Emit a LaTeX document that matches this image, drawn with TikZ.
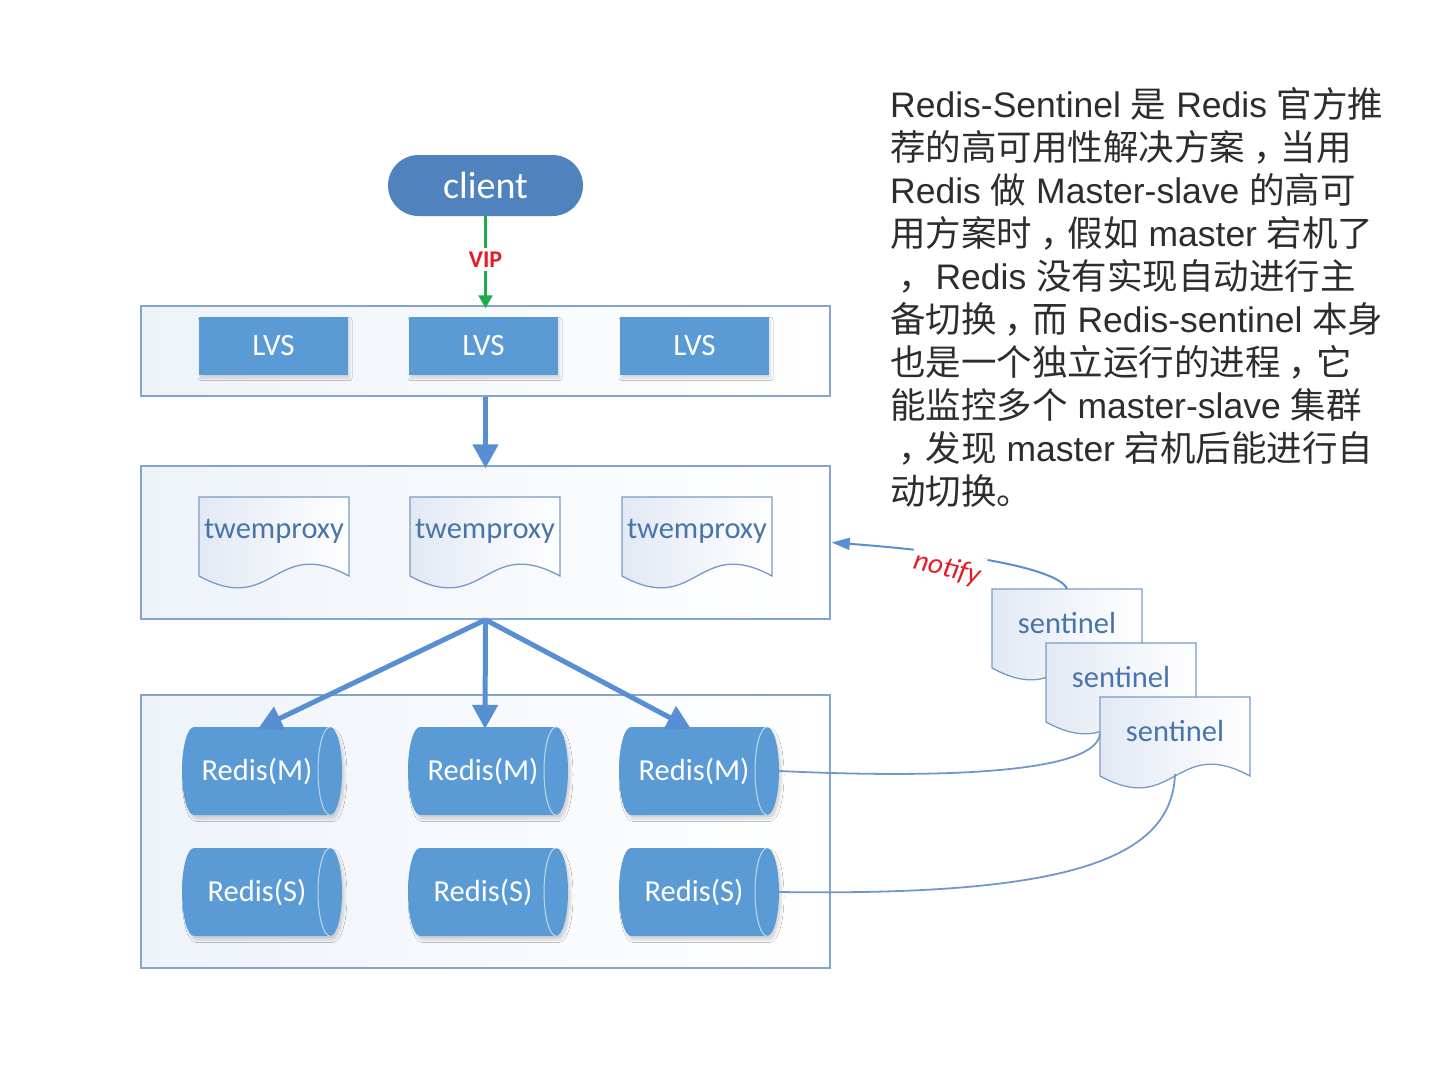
\documentclass[tikz,border=0pt]{standalone}
\usepackage{fontspec}
\setmainfont{Liberation Sans}
\newfontfamily\cjk{Noto Sans CJK SC}
\newfontfamily\calfont{Carlito}
\usetikzlibrary{arrows.meta,shapes.misc,shadows.blur}
\definecolor{mainblue}{RGB}{91,155,213}
\definecolor{clientblue}{RGB}{80,131,190}
\definecolor{arrowblue}{RGB}{88,142,210}
\definecolor{borderblue}{RGB}{132,164,203}
\definecolor{docblue}{RGB}{120,155,198}
\definecolor{doctextblue}{RGB}{72,116,170}
\definecolor{boxtint}{RGB}{238,243,250}
\definecolor{doctint}{RGB}{226,233,244}
\definecolor{vipgreen}{RGB}{30,172,75}
\definecolor{labelred}{RGB}{228,28,38}
\definecolor{linkblue}{RGB}{112,152,202}
\definecolor{paratext}{RGB}{45,45,45}
\definecolor{innerline}{RGB}{190,214,238}
\newcommand\zh[1]{{\cjk #1}}
\newcommand\zcomma{\kern0.22em{\cjk ，}\kern-0.22em}
\newcommand\docshape[4]{%
  \begin{scope}[shift={(#1,#2)}]
    \draw[docline] (0,0) -- (150,0) -- (150,79) .. controls (75,38) and (75,120) .. (0,79) -- cycle;
    \node[docanchor] (#3) at (75,39.5) {};
    \node[doctext] (#3t) at (75,34) {#4};
  \end{scope}}
\newcommand\rediscyl[4]{%
  \begin{scope}[shift={(#1,#2)}]
    \fill[cylfill] (-68,-44) -- (68,-44) arc[start angle=90,end angle=-90,x radius=12pt,y radius=44pt]
      -- (-68,44) arc[start angle=270,end angle=90,x radius=12pt,y radius=44pt] -- cycle;
    \draw[cylinner] (68,-44) arc[start angle=90,end angle=270,x radius=12pt,y radius=44pt];
    \node[cylanchor] (#3) at (0,0) {};
    \node[cyltext] (#3t) at (-5,0) {#4};
  \end{scope}}
\tikzset{
  container/.style={draw=borderblue, line width=1.5pt, left color=boxtint, right color=white,
    rectangle, inner sep=0pt, minimum width=689pt},
  clientnode/.style={rounded rectangle, fill=clientblue, text=white, minimum width=195pt,
    minimum height=61pt, inner sep=0pt, font=\calfont\fontsize{38}{42}\selectfont},
  lvsbox/.style={rectangle, fill=mainblue, text=white, minimum width=149pt, minimum height=58pt,
    inner sep=0pt, font=\calfont\fontsize{31}{35}\selectfont,
    blur shadow={shadow xshift=1.5pt, shadow yshift=-3pt, shadow blur radius=2.5pt, shadow opacity=16}},
  docline/.style={draw=docblue, line width=1.3pt, left color=doctint, right color=white},
  docanchor/.style={rectangle, inner sep=0pt, minimum width=150pt, minimum height=79pt},
  doctext/.style={text=doctextblue, inner sep=0pt, font=\calfont\fontsize{30.5}{34}\selectfont},
  cylfill/.style={fill=mainblue,
    blur shadow={shadow xshift=2.5pt, shadow yshift=-4pt, shadow blur radius=2.5pt, shadow opacity=16}},
  cylinner/.style={draw=innerline, line width=1pt},
  cylanchor/.style={rectangle, inner sep=0pt, minimum width=160pt, minimum height=88pt},
  cyltext/.style={text=white, inner sep=0pt, font=\calfont\fontsize{30.5}{34}\selectfont},
  bigarrow/.style={draw=arrowblue, line width=5pt, -{Triangle[width=25pt,length=24pt]}},
  viparrow/.style={draw=vipgreen, line width=2.5pt, -{Triangle[width=14pt,length=13pt]}},
  notifyarrow/.style={draw=arrowblue, line width=2pt, -{Triangle[width=12pt,length=18pt]}},
  link/.style={draw=linkblue, line width=1.8pt},
  para/.style={anchor=base west, inner sep=0pt, text=paratext, font=\fontsize{35.5}{43}\selectfont}
}
\begin{document}
\begin{tikzpicture}[x=1pt,y=-1pt]
\useasboundingbox[fill=white] (0,0) rectangle (1440,1080);

% containers
\node[container, minimum height=90pt] (lvsc) at (485.5,351) {};
\node[container, minimum height=153pt] (twc) at (485.5,542.5) {};
\node[container, minimum height=273pt] (rc) at (485.5,831.5) {};

% client
\node[clientnode] (client) at (485.5,185.5) {client};

% LVS boxes
\node[lvsbox] (lvs1) at (273.5,346) {LVS};
\node[lvsbox] (lvs2) at (483.5,346) {LVS};
\node[lvsbox] (lvs3) at (694.5,346) {LVS};

% twemproxy
\docshape{199}{497}{tw1}{twemproxy}
\docshape{410}{497}{tw2}{twemproxy}
\docshape{622}{497}{tw3}{twemproxy}

% redis
\rediscyl{262}{771}{rm1}{Redis(M)}
\rediscyl{488}{771}{rm2}{Redis(M)}
\rediscyl{699}{771}{rm3}{Redis(M)}
\rediscyl{262}{892}{rs1}{Redis(S)}
\rediscyl{488}{892}{rs2}{Redis(S)}
\rediscyl{699}{892}{rs3}{Redis(S)}

% arrows
\draw[viparrow] (client.south) -- ([yshift=-3pt]lvsc.north)
  node[pos=0.47, fill=white, inner xsep=1pt, inner ysep=4pt, text=labelred, font=\calfont\bfseries\fontsize{24}{27}\selectfont] (vip) {VIP};
\draw[bigarrow] (lvsc.south) -- ([yshift=-3pt]twc.north);
\draw[bigarrow] (twc.south) -- ([xshift=-4pt,yshift=-2pt]rm1.north);
\draw[bigarrow] (twc.south) -- ([xshift=-3pt,yshift=-2pt]rm2.north);
\draw[bigarrow] (twc.south) -- ([xshift=-8pt,yshift=-2pt]rm3.north);

% sentinels
\docshape{992}{589}{s1}{sentinel}
\docshape{1046}{643}{s2}{sentinel}
\docshape{1100}{697}{s3}{sentinel}

% sentinel links
\draw[link] (rm3.east) .. controls (950,779) and (1098,772) .. ([yshift=3pt]s3.west);
\draw[link] (rs3.east) .. controls (1060,896) and (1172,862) .. ([yshift=2pt]s3.south);
\draw[notifyarrow] (s1.north) .. controls (1058,568) and (960,552) .. ([xshift=1pt]twc.east);
\node[fill=white, inner xsep=3pt, inner ysep=7pt, rotate=-14, text=labelred,
  font=\calfont\itshape\fontsize{29}{32}\selectfont] (notify) at (947,569) {notify};

% paragraph
\node[para] (t1) at (890,117) {Redis-Sentinel \zh{是} Redis \zh{官方推}};
\node[para] (t2) at (890,160) {\zh{荐的高可用性解决方案}\zcomma\zh{当用}};
\node[para] (t3) at (890,203) {Redis \zh{做} Master-slave \zh{的高可}};
\node[para] (t4) at (890,246) {\zh{用方案时}\zcomma\zh{假如} master \zh{宕机了}};
\node[para] (t5) at (890,289) {\zcomma{} Redis \zh{没有实现自动进行主}};
\node[para] (t6) at (890,332) {\zh{备切换}\zcomma\zh{而} Redis-sentinel \zh{本身}};
\node[para] (t7) at (890,375) {\zh{也是一个独立运行的进程}\zcomma\zh{它}};
\node[para] (t8) at (890,418) {\zh{能监控多个} master-slave \zh{集群}};
\node[para] (t9) at (890,461) {\zcomma\zh{发现} master \zh{宕机后能进行自}};
\node[para] (t10) at (890,504) {\zh{动切换。}};
\end{tikzpicture}
\end{document}
